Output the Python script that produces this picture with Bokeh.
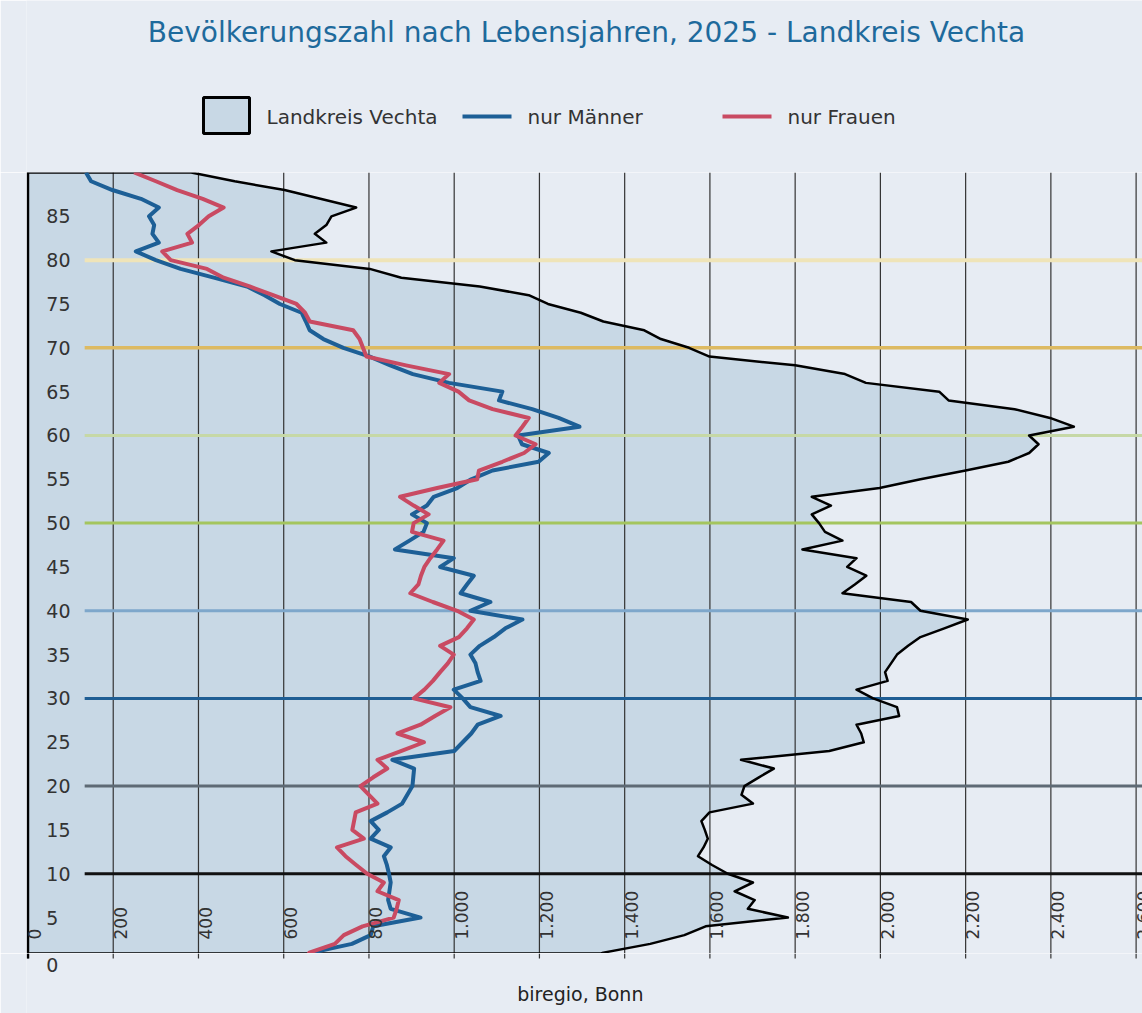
import numpy as np
from bokeh.plotting import figure
from bokeh.layouts import column
from bokeh.models import Range1d, Label
from bokeh.core.properties import value
from bokeh.embed import file_html
from bokeh.resources import INLINE

# ---------------- data ----------------
ages = list(range(0, 91))

total = [1300, 1350, 1460, 1540, 1590, 1783, 1689, 1705, 1658, 1701,
         1642, 1605, 1572, 1585, 1595, 1588, 1580, 1599, 1701, 1674,
         1681, 1715, 1750, 1673, 1880, 1961, 1955, 1944, 2044, 2039,
         1983, 1944, 2017, 2011, 2025, 2039, 2065, 2094, 2150, 2205,
         2094, 2072, 1911, 1940, 1967, 1922, 1944, 1817, 1911, 1870,
         1856, 1839, 1884, 1839, 1998, 2094, 2200, 2300, 2349, 2371,
         2349, 2454, 2398, 2315, 2160, 2138, 1966, 1917, 1800, 1599,
         1551, 1485, 1446, 1350, 1297, 1220, 1175, 1060, 876, 802,
         626, 571, 700, 673, 700, 712, 770, 686, 602, 485,
         383]

men = [640, 665, 760, 804, 810, 921, 851, 845, 848, 851,
       847, 842, 835, 851, 804, 823, 804, 843, 878, 890,
       902, 904, 906, 855, 1000, 1020, 1040, 1055, 1109, 1038,
       1020, 999, 1062, 1055, 1050, 1038, 1060, 1093, 1120, 1160,
       1038, 1085, 1015, 1030, 1046, 967, 999, 861, 895, 928,
       936, 901, 936, 952, 1007, 1040, 1090, 1198, 1222, 1159,
       1150, 1294, 1245, 1183, 1105, 1113, 988, 903, 850, 802,
       740, 693, 661, 652, 642, 591, 555, 514, 436, 358,
       300, 253, 307, 292, 296, 284, 307, 265, 198, 148,
       136]

women = [650, 660, 720, 741, 785, 858, 865, 870, 820, 835,
         796, 770, 745, 725, 788, 761, 765, 769, 820, 800,
         780, 810, 843, 820, 875, 929, 867, 921, 955, 991,
         905, 930, 950, 967, 985, 999, 967, 1011, 1030, 1046,
         1007, 950, 897, 916, 922, 930, 944, 960, 975, 901,
         905, 940, 905, 873, 960, 1054, 1058, 1113, 1164, 1191,
         1144, 1160, 1175, 1090, 1035, 1010, 965, 988, 887, 794,
         786, 778, 763, 661, 650, 630, 575, 520, 459, 420,
         335, 315, 385, 374, 401, 424, 459, 410, 350, 300,
         249]

x_ticks = [0, 200, 400, 600, 800, 1000, 1200, 1400, 1600, 1800, 2000, 2200, 2400, 2600]
x_tick_labels = ["0", "200", "400", "600", "800", "1.000", "1.200", "1.400",
                 "1.600", "1.800", "2.000", "2.200", "2.400", "2.600"]
y_ticks = [0, 5, 10, 15, 20, 25, 30, 35, 40, 45, 50, 55, 60, 65, 70, 75, 80, 85]
y_tick_labels = [str(t) for t in y_ticks]

ref_ages = [10, 20, 30, 40, 50, 60, 70, 80]
ref_colors = ["#111111", "#5E6A75", "#1F5E94", "#7EA7CB",
              "#A4C55E", "#C6D8A6", "#DDBA62", "#EFE4B8"]
ref_widths = [3, 3, 3, 3, 3, 3, 3.5, 4]

title_text = "Bevölkerungszahl nach Lebensjahren, 2025 - Landkreis Vechta"
legend_labels = ["Landkreis Vechta", "nur Männer", "nur Frauen"]
source_text = "biregio, Bonn"

# ---------------- style ----------------
BG = "#E7ECF3"
FILL = "#C8D8E5"
MEN_C = "#1D5F96"
WOMEN_C = "#C94A62"
TITLE_C = "#1E6A9C"
TEXT_C = "#333333"
GRID_C = "#333333"
FONT = "DejaVu Sans"

W = 1142
LEFT = 26          # left border of every frame (px)
HDR_H = 172
MAIN_H = 781
FOOT_H = 60
PX_PER_UNIT = 0.4262
X0 = -3.5
X1 = X0 + (W - LEFT) / PX_PER_UNIT


def blank(fig):
    fig.grid.visible = False
    fig.outline_line_color = None
    fig.background_fill_color = BG
    fig.border_fill_color = BG


# ---------------- header (title + legend), data units = page pixels ----------------
hdr = figure(width=W, height=HDR_H, x_range=Range1d(LEFT, W), y_range=Range1d(0, HDR_H),
             toolbar_location=None, output_backend="svg",
             min_border_left=LEFT, min_border_right=0, min_border_top=0, min_border_bottom=0,
             x_axis_location=None, y_axis_location=None)
blank(hdr)

hdr.text(x=[586], y=[HDR_H - 32], text=[title_text], text_align="center", text_baseline="middle",
         text_font=value(FONT), text_font_size="28px", text_color=TITLE_C)
hdr.rect(x=[226], y=[HDR_H - 115], width=[46], height=[36], fill_color=FILL,
         line_color="black", line_width=3)
hdr.segment(x0=[462, 722], y0=[HDR_H - 116] * 2, x1=[511, 771], y1=[HDR_H - 116] * 2,
            line_color=[MEN_C, WOMEN_C], line_width=4)
hdr.text(x=[266, 527, 787], y=[HDR_H - 116] * 3, text=legend_labels, text_align="left",
         text_baseline="middle", text_font=value(FONT), text_font_size="20px",
         text_color=TEXT_C)

# ---------------- main chart ----------------
y0, y1 = 0.9, 90
p = figure(width=W, height=MAIN_H, x_range=Range1d(X0, X1), y_range=Range1d(y0, y1),
           toolbar_location=None, output_backend="svg",
           min_border_left=LEFT, min_border_right=0, min_border_top=0, min_border_bottom=0,
           x_axis_location=None, y_axis_location=None)
blank(p)

# total area (clipped at the bottom of the visible range)
v_start = float(np.interp(y0, ages, total))
area_x = [0, v_start] + total[1:] + [0]
area_y = [y0, y0] + ages[1:] + [y1]
p.patch(area_x, area_y, fill_color=FILL, line_color=None)

# vertical grid lines
n = len(x_ticks)
p.segment(x0=x_ticks, y0=[y0] * n, x1=x_ticks, y1=[y1] * n, line_color=GRID_C, line_width=1.2)

# coloured age reference lines
h_start, h_end = 133, 2700
m = len(ref_ages)
p.segment(x0=[h_start] * m, y0=ref_ages, x1=[h_end] * m, y1=ref_ages,
          line_color=ref_colors, line_width=ref_widths)

# total outline
p.line(area_x + [0], area_y + [y0], line_color="black", line_width=2.5, line_join="round")

# men / women
p.line(men, ages, line_color=MEN_C, line_width=4, line_join="round")
p.line(women, ages, line_color=WOMEN_C, line_width=4, line_join="round")

# x tick labels (rotated, inside plot)
x_label_age = 2.5
p.text(x=x_ticks, y=[x_label_age] * n, text=x_tick_labels, angle=np.pi / 2,
       text_align="left", text_baseline="middle", x_offset=7,
       text_font=value(FONT), text_font_size="17px", text_color=TEXT_C)

# y tick labels inside the plot
y_label_x = 43
for t, lab in zip(y_ticks, y_tick_labels):
    if t >= y0:
        p.add_layout(Label(x=y_label_x, y=t, text=lab, text_align="left", text_baseline="middle",
                           text_font=FONT, text_font_size="19px", text_color=TEXT_C))

# ---------------- footer (ticks below frame, "0", source) ----------------
ft = figure(width=W, height=FOOT_H, x_range=p.x_range, y_range=Range1d(0, FOOT_H),
            toolbar_location=None, output_backend="svg",
            min_border_left=LEFT, min_border_right=0, min_border_top=0, min_border_bottom=0,
            x_axis_location=None, y_axis_location=None)
blank(ft)
ft.segment(x0=x_ticks, y0=[FOOT_H] * n, x1=x_ticks, y1=[FOOT_H - 5] * n,
           line_color=GRID_C, line_width=1.2)
ft.segment(x0=[0], y0=[FOOT_H], x1=[0], y1=[FOOT_H - 5], line_color="black", line_width=2.5)
for t, lab in zip(y_ticks, y_tick_labels):
    if t < y0:
        ft.text(x=[y_label_x], y=[FOOT_H - 11], text=[lab], text_align="left",
                text_baseline="middle", text_font=value(FONT), text_font_size="19px",
                text_color=TEXT_C)
ft.text(x=[1296], y=[FOOT_H - 40], text=[source_text], text_align="center",
        text_baseline="middle", text_font=value(FONT), text_font_size="19px",
        text_color="#222222")

layout = column(hdr, p, ft, spacing=0)
open("out.html", "w").write(file_html(layout, INLINE, "Bevölkerungszahl"))
